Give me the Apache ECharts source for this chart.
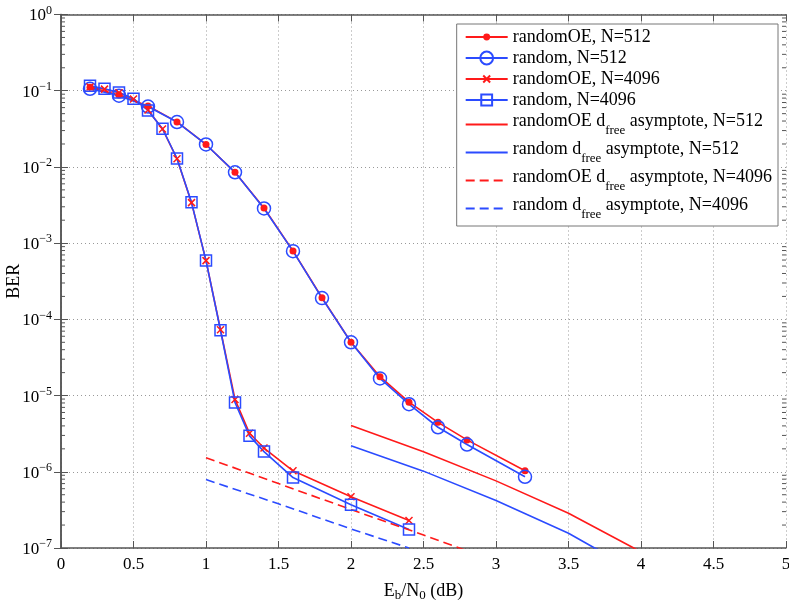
<!DOCTYPE html>
<html>
<head>
<meta charset="utf-8">
<script src="https://cdn.jsdelivr.net/npm/echarts@6/dist/echarts.min.js"></script>
<style>
html, body { margin: 0; padding: 0; background: #fff; }
#chart { width: 789px; height: 600px; }
</style>
</head>
<body>
<div id="chart"></div>
<script>
'use strict';

// Eb/N0 (dB) and BER
const ebno512 = [0.2, 0.4, 0.6, 0.8, 1.0, 1.2, 1.4, 1.6, 1.8, 2.0, 2.2, 2.4, 2.6, 2.8, 3.2];
const berOE512 = [0.111, 0.088, 0.063, 0.039, 0.0197, 0.0085, 0.0029, 7.9e-4, 1.92e-4, 5.0e-5, 1.77e-5, 8.2e-6, 4.45e-6, 2.62e-6, 1.03e-6];
const berRnd512 = [0.106, 0.086, 0.062, 0.0388, 0.0197, 0.0085, 0.00285, 7.85e-4, 1.9e-4, 5.0e-5, 1.68e-5, 7.7e-6, 3.84e-6, 2.28e-6, 8.6e-7];

const ebno4096 = [0.2, 0.3, 0.4, 0.5, 0.6, 0.7, 0.8, 0.9, 1.0, 1.1, 1.2, 1.3, 1.4, 1.6, 2.0, 2.4];
const berOE4096 = [0.112, 0.105, 0.094, 0.078, 0.056, 0.0315, 0.0128, 0.0034, 5.9e-4, 7.3e-5, 8.9e-6, 3.2e-6, 2.05e-6, 1.03e-6, 4.7e-7, 2.3e-7];
const berRnd4096 = [0.116, 0.106, 0.095, 0.0785, 0.055, 0.0317, 0.0129, 0.00343, 5.9e-4, 7.2e-5, 8.1e-6, 2.96e-6, 1.84e-6, 8.4e-7, 3.7e-7, 1.75e-7];

// d_free asymptotes
const asymEbnoOE512 = [2.0, 2.5, 3.0, 3.5, 3.95, 4.0];
const asymOE512 = [4.06e-6, 1.83e-6, 7.6e-7, 2.86e-7, 1.0e-7, 8.9e-8];
const asymEbnoRnd512 = [2.0, 2.5, 3.0, 3.5, 3.68, 3.75];
const asymRnd512 = [2.2e-6, 1.02e-6, 4.2e-7, 1.56e-7, 1.0e-7, 8.7e-8];
const asymEbnoOE4096 = [1.0, 1.5, 2.0, 2.5, 2.8];
const asymOE4096 = [1.53e-6, 7.0e-7, 3.2e-7, 1.48e-7, 9.2e-8];
const asymEbnoRnd4096 = [1.0, 1.5, 2.0, 2.4];
const asymRnd4096 = [7.9e-7, 3.8e-7, 1.78e-7, 1.0e-7];

const xTicks = [0, 0.5, 1, 1.5, 2, 2.5, 3, 3.5, 4, 4.5, 5];
const yMin = 1e-7;
const yMax = 1;

const FONT = '"Liberation Serif", "DejaVu Serif", serif';
const RED = '#ff1a1a';
const BLUE = '#2b4bff';
const AXIS = '#555';

// markers drawn inside a 13x13 box so chart and legend share sizes
const DOT = 'path://M0,0 M13,13 M10,6.5 A3.5,3.5 0 1 1 3,6.5 A3.5,3.5 0 1 1 10,6.5 Z';
const CROSS = 'path://M0,0 M13,13 M3,3 L10,10 M10,3 L3,10';
const SQUARE = 'path://M0,0 M13,13 M1,1 L12,1 L12,12 L1,12 Z';

const pairs = (xs, ys) => xs.map((x, i) => [x, ys[i]]);

const minorTicks = [];
for (let e = -7; e < 0; e++) {
    for (let k = 2; k <= 9; k++) minorTicks.push([0, k * Math.pow(10, e)]);
}

// z is an empty strut that makes the line tall enough for the subscript
const legendLabel = (name) => {
    const parts = name.split('d_free');
    if (parts.length === 1) return '{t|' + name + '}';
    return '{z|\u200b}{a|' + parts[0] + 'd}{sub|free}{a|' + parts[1] + '}';
};

const yLabel = (v) => {
    const e = Math.round(Math.log10(v));
    return '{b|10}{s|' + (e < 0 ? '\u2212' + (-e) : e) + '}';
};

const lineSeries = (name, data, color, opts) => ({
    name: name,
    type: 'line',
    data: data,
    symbol: opts.symbol || 'none',
    symbolSize: 13,
    lineStyle: { color: color, width: 1.6, type: opts.dash ? [9, 5] : 'solid' },
    itemStyle: opts.itemStyle || { color: color },
    emphasis: { disabled: true },
    z: 3
});

const names = [
    'randomOE, N=512',
    'random, N=512',
    'randomOE, N=4096',
    'random, N=4096',
    'randomOE d_free asymptote, N=512',
    'random d_free asymptote, N=512',
    'randomOE d_free asymptote, N=4096',
    'random d_free asymptote, N=4096'
];

const axisLine = { show: true, lineStyle: { color: AXIS, width: 1.5 } };
const tick = { show: true, inside: true, length: 7, lineStyle: { color: AXIS, width: 1 } };
const grid = { show: true, lineStyle: { color: '#999', width: 1, type: [1, 3] } };

const chart = echarts.init(document.getElementById('chart'));
chart.setOption({
    animation: false,
    backgroundColor: '#fff',
    textStyle: { fontFamily: FONT },
    grid: { left: 61, right: 3, top: 14.5, bottom: 52, outerBoundsMode: 'none', containLabel: false },
    legend: {
        orient: 'vertical',
        right: 11,
        top: 24,
        align: 'left',
        padding: [4, 6, 5, 8],
        itemWidth: 42,
        itemHeight: 16,
        itemGap: 3,
        backgroundColor: '#fff',
        borderColor: '#777',
        borderWidth: 1,
        selectedMode: false,
        formatter: legendLabel,
        textStyle: {
            fontFamily: FONT, fontSize: 18, color: '#000',
            rich: {
                t: { fontFamily: FONT, fontSize: 18, lineHeight: 18 },
                z: { fontFamily: FONT, fontSize: 18, lineHeight: 25 },
                a: { fontFamily: FONT, fontSize: 18, lineHeight: 23, verticalAlign: 'top' },
                sub: { fontFamily: FONT, fontSize: 13, lineHeight: 13, verticalAlign: 'bottom' }
            }
        },
        data: names.map((n, i) => i < 4 ? { name: n } : { name: n, itemStyle: { opacity: 0 } })
    },
    xAxis: [{
        type: 'value',
        min: xTicks[0],
        max: xTicks[xTicks.length - 1],
        interval: 0.5,
        axisLine: axisLine,
        axisTick: tick,
        splitLine: grid,
        axisLabel: { color: '#000', fontFamily: FONT, fontSize: 17, margin: 8 },
        name: '{n|E}{sub|b}{n|/N}{sub|0}{n| (dB)}',
        nameLocation: 'middle',
        nameGap: 21,
        nameTextStyle: {
            color: '#000', fontFamily: FONT, fontSize: 18,
            rich: {
                n: { fontFamily: FONT, fontSize: 18, lineHeight: 20, verticalAlign: 'top' },
                sub: { fontFamily: FONT, fontSize: 13, lineHeight: 13, verticalAlign: 'bottom', padding: [11, 0, 0, 0] }
            }
        }
    }, {
        type: 'value',
        position: 'top',
        min: xTicks[0],
        max: xTicks[xTicks.length - 1],
        interval: 0.5,
        axisLine: axisLine,
        axisTick: tick,
        axisLabel: { show: false },
        splitLine: { show: false }
    }],
    yAxis: [{
        type: 'log',
        logBase: 10,
        min: yMin,
        max: yMax,
        axisLine: axisLine,
        axisTick: tick,
        splitLine: grid,
        axisLabel: {
            color: '#000', fontFamily: FONT, fontSize: 17, margin: 9,
            formatter: yLabel,
            rich: {
                b: { fontFamily: FONT, fontSize: 17, lineHeight: 20, verticalAlign: 'bottom' },
                s: { fontFamily: FONT, fontSize: 12, lineHeight: 12, verticalAlign: 'top', padding: [0, 0, 10, 0] }
            }
        },
        name: 'BER',
        nameLocation: 'middle',
        nameGap: 38,
        nameMoveOverlap: false,
        nameTextStyle: { color: '#000', fontFamily: FONT, fontSize: 18 }
    }, {
        type: 'log',
        logBase: 10,
        position: 'right',
        min: yMin,
        max: yMax,
        axisLine: axisLine,
        axisTick: tick,
        axisLabel: { show: false },
        splitLine: { show: false }
    }],
    series: [
        {
            type: 'custom',
            silent: true,
            data: minorTicks,
            encode: { x: 0, y: 1 },
            z: 1,
            renderItem: (params, api) => {
                const v = api.value(1);
                const l = api.coord([0, v]);
                const r = api.coord([5, v]);
                const st = { stroke: AXIS, lineWidth: 1 };
                return {
                    type: 'group',
                    children: [
                        { type: 'line', shape: { x1: l[0], y1: l[1], x2: l[0] + 4, y2: l[1] }, style: st },
                        { type: 'line', shape: { x1: r[0] - 4, y1: r[1], x2: r[0], y2: r[1] }, style: st }
                    ]
                };
            }
        },
        lineSeries(names[0], pairs(ebno512, berOE512), RED, { symbol: DOT }),
        lineSeries(names[1], pairs(ebno512, berRnd512), BLUE, {
            symbol: 'circle',
            itemStyle: { color: 'rgba(0,0,0,0)', borderColor: BLUE, borderWidth: 1.5 }
        }),
        lineSeries(names[2], pairs(ebno4096, berOE4096), RED, {
            symbol: CROSS,
            itemStyle: { color: RED, borderColor: RED, borderWidth: 1.5 }
        }),
        lineSeries(names[3], pairs(ebno4096, berRnd4096), BLUE, {
            symbol: SQUARE,
            itemStyle: { color: 'rgba(0,0,0,0)', borderColor: BLUE, borderWidth: 1.5 }
        }),
        lineSeries(names[4], pairs(asymEbnoOE512, asymOE512), RED, {}),
        lineSeries(names[5], pairs(asymEbnoRnd512, asymRnd512), BLUE, {}),
        lineSeries(names[6], pairs(asymEbnoOE4096, asymOE4096), RED, { dash: true }),
        lineSeries(names[7], pairs(asymEbnoRnd4096, asymRnd4096), BLUE, { dash: true })
    ]
});
</script>
</body>
</html>
